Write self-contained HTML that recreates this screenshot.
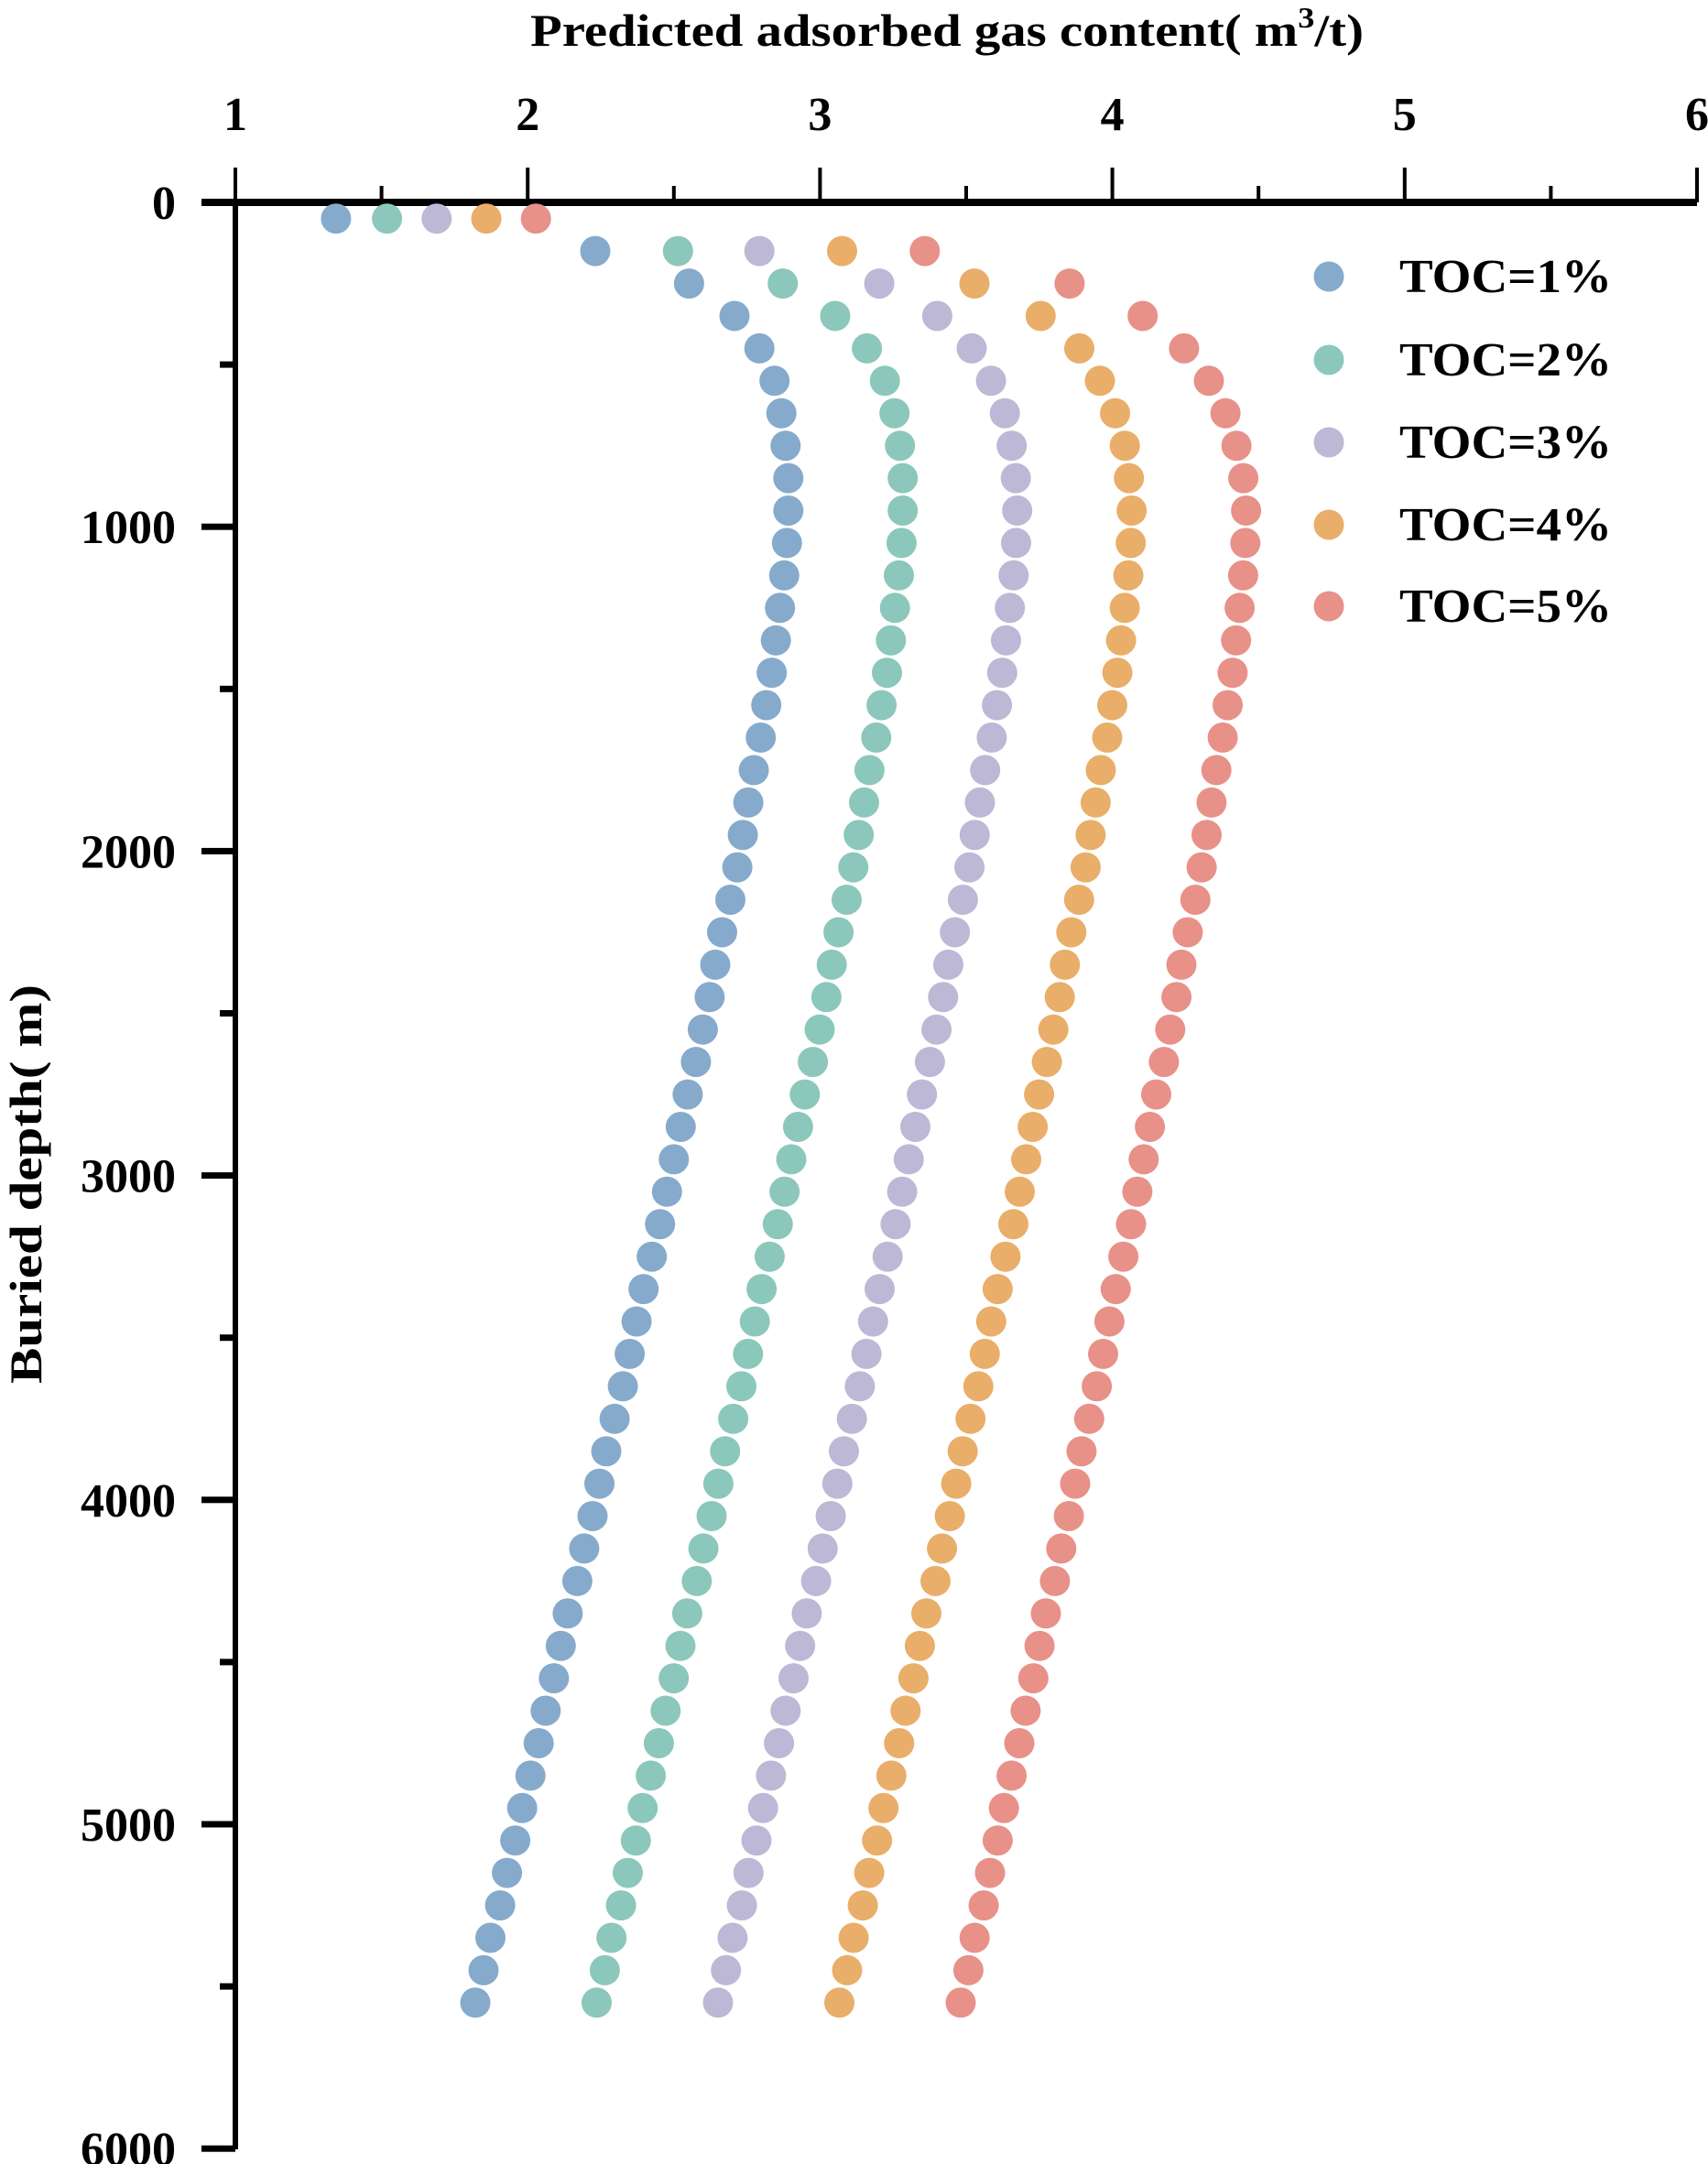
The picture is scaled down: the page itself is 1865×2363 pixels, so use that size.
<!DOCTYPE html>
<html><head><meta charset="utf-8"><style>
html,body{margin:0;padding:0;background:#fff;}
svg{display:block;}
text{font-family:"Liberation Serif",serif;font-weight:bold;fill:#000;}
</style></head><body>
<svg id="s" width="1865" height="2363" xmlns="http://www.w3.org/2000/svg">
<text x="1034" y="50" font-size="50" text-anchor="middle" textLength="910" lengthAdjust="spacingAndGlyphs">Predicted adsorbed gas content(  m<tspan font-size="32" dy="-20">3</tspan><tspan dy="20">/t)</tspan></text>
<text transform="translate(45,1293) rotate(-90)" font-size="50" text-anchor="middle" textLength="436" lengthAdjust="spacingAndGlyphs">Buried depth(  m)</text>
<g id="ax"></g><g id="dots"></g>
</svg>
<script>
var ns="http://www.w3.org/2000/svg",s=document.getElementById('s');
function el(t,a,p){var e=document.createElementNS(ns,t);for(var k in a)e.setAttribute(k,a[k]);(p||s).appendChild(e);return e;}
var ax=document.getElementById('ax');
var X0=257,U=319.2;
el('rect',{x:220,y:217,width:1633,height:8,fill:'#000'},ax);
el('rect',{x:X0-3,y:221,width:6,height:2126,fill:'#000'},ax);
for(var i=0;i<=10;i++){var x=X0+U/2*i;var maj=i%2==0;
 el('rect',{x:x-2,y:maj?183:203,width:4,height:maj?38:18,fill:'#000'},ax);
 if(maj){var t=el('text',{x:x,y:142,'font-size':52,'text-anchor':'middle'},ax);t.textContent=String(1+i/2);}}
for(var i=0;i<=12;i++){var y=221+177.1*i;var maj=i%2==0;
 el('rect',{x:maj?220:240,y:y-3.5,width:maj?37:17,height:7,fill:'#000'},ax);
 if(maj){var t=el('text',{x:192,y:y+18,'font-size':52,'text-anchor':'end'},ax);t.textContent=String(i*500);}}
var blue=[243,431,499,532,550,561,566,569,571,571,570,568,565,562,559,555,551,546,542,538,534,529,523,518,514,509,504,498,493,488,483,478,472,466,461,456,451,445,439,434,429,423,418,411,406,401,395,390,384,378,373,367,362,355,350,344];
var shallow=[[243,280,316,352,388],[431,491,550,610,670],[499,567,637,706,775],[532,605,679,754,828],[550,628,704,782,858],[561,641,718,797,876],[566,648,728,808,888],[569,652,733,815,896],[571,654,736,818,901]];
var cols=['#86aacb','#8cc7bb','#bcb8d5','#e9ae69','#e79189'];
var g=document.getElementById('dots');
for(var i=0;i<56;i++){var d=50+100*i;var y=221+d*0.3542;
 for(var k=0;k<5;k++){var xd;
  if(i<9)xd=shallow[i][k];else xd=blue[i]+k*(83+5*(d-950)/4600);
  var x=X0+(xd-170)*U/212;
  el('circle',{cx:x.toFixed(1),cy:y.toFixed(1),r:16.5,fill:cols[k]},g);}}
var ly=[302,393,483,573,662];
for(var k=0;k<5;k++){el('circle',{cx:1451,cy:ly[k],r:16.5,fill:cols[k]});
 var t=el('text',{x:1528,y:ly[k]+17,'font-size':52,textLength:232,lengthAdjust:'spacingAndGlyphs'});t.textContent='TOC='+(k+1)+'%';}
</script>
</body></html>
